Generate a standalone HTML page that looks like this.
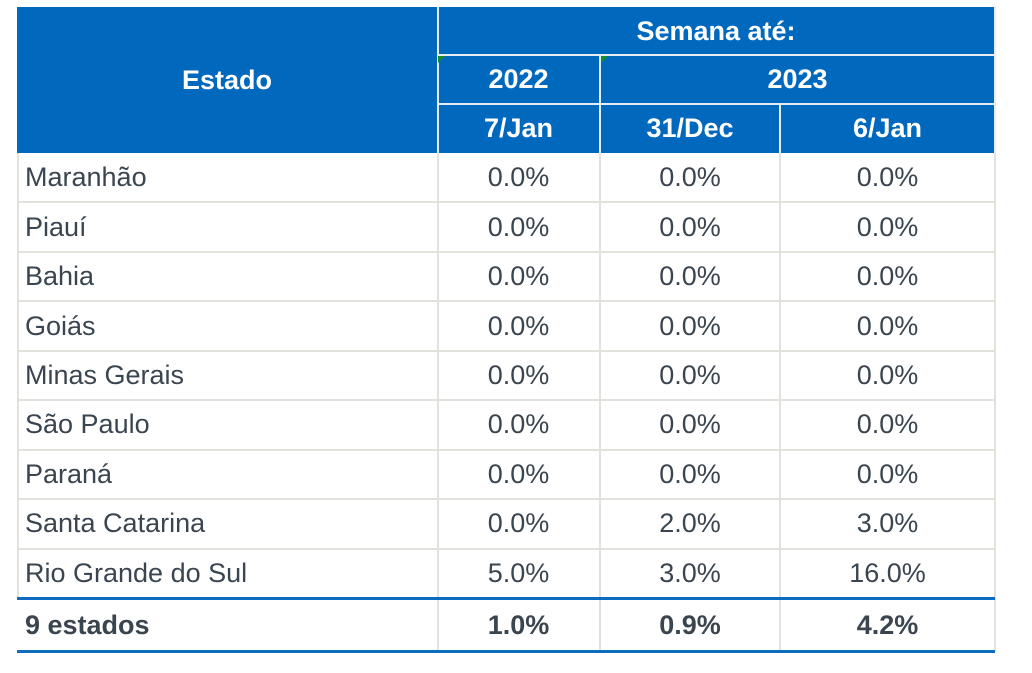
<!DOCTYPE html>
<html><head><meta charset="utf-8"><style>
html,body{margin:0;padding:0;background:#fff;width:1032px;height:673px;overflow:hidden}
body{position:relative;font-family:"Liberation Sans",sans-serif}
.c{position:absolute;display:flex;align-items:center;justify-content:center;box-sizing:border-box;font-size:27px;color:#3b4550}
.h{background:#0069be;color:#fff;font-weight:bold;font-size:27px}
.l{justify-content:flex-start;padding-left:8px}
.vl{position:absolute;width:2px;background:#e3e1dc}
.hl{position:absolute;height:2px;background:#e3e1dc;left:17px;width:978px}
.hw{position:absolute;height:2px;background:#e6ecf3}
.tri{position:absolute;width:0;height:0;border-top:7px solid #1a8a2a;border-right:7px solid transparent}
</style></head><body>
<div id="t"></div>
<script>
const states=["Maranhão","Piauí","Bahia","Goiás","Minas Gerais","São Paulo","Paraná","Santa Catarina","Rio Grande do Sul"];
const jan2022=["0.0%","0.0%","0.0%","0.0%","0.0%","0.0%","0.0%","0.0%","5.0%"];
const dec2023=["0.0%","0.0%","0.0%","0.0%","0.0%","0.0%","0.0%","2.0%","3.0%"];
const jan2023=["0.0%","0.0%","0.0%","0.0%","0.0%","0.0%","0.0%","3.0%","16.0%"];
const total=["9 estados","1.0%","0.9%","4.2%"];
const cols=[17,437,600,780,995];
const t=document.getElementById('t');
function cell(x,y,w,h,txt,cls,name){const d=document.createElement('div');d.className='c '+(cls||'');


d.style.left=x+'px';d.style.top=y+'px';d.style.width=w+'px';d.style.height=h+'px';d.textContent=txt;t.appendChild(d);return d;}
function line(cls,x,y,w,h,c){const d=document.createElement('div');d.className=cls;


if(x!=null)d.style.left=x+'px';d.style.top=y+'px';if(w!=null)d.style.width=w+'px';if(h!=null)d.style.height=h+'px';if(c)d.style.background=c;t.appendChild(d);}
// header
cell(17,7,978,146,'','h','header-background');
cell(17,7,420,146,'Estado','h','header-estado');
cell(437,7,558,48,'Semana até:','h','header-semana');
cell(437,55,163,49,'2022','h','header-2022');
cell(600,55,395,49,'2023','h','header-2023');
cell(437,104,163,49,'7/Jan','h','header-7-jan');
cell(600,104,180,49,'31/Dec','h','header-31-dec');
cell(780,104,215,49,'6/Jan','h','header-6-jan');
line('vl',437,7,null,146,'#e6ecf3');
line('hw',437,54,558,null);
line('hw',437,103,558,null);
line('vl',599,55,null,98,'#e6ecf3');
line('vl',779,104,null,49,'#e6ecf3');
line('vl',994,7,null,146,'#e6ecf3');
[438,601].forEach(x=>{const d=document.createElement('div');d.className='tri';


d.style.left=x+'px';d.style.top='56px';t.appendChild(d);});
// body
const top0=153,rh=49.45;
states.forEach((s,i)=>{const y=top0+i*rh;
cell(17,y,420,rh,s,'l','state-'+i);
cell(437,y,163,rh,jan2022[i],'','value-2022-jan-'+i);
cell(600,y,180,rh,dec2023[i],'','value-2023-dec-'+i);
cell(780,y,215,rh,jan2023[i],'','value-2023-jan-'+i);
if(i>0)line('hl',null,Math.round(y)-1);
});
[437,599,779,994].forEach(x=>line('vl',x,153,null,498));
line('vl',17,153,null,445);
// total
const ty=599;
line('hl',17,597,978,3,'#0e6bbf');
cell(17,ty,420,52,total[0],'l','total-label').style.fontWeight='bold';
cell(437,ty,163,52,total[1],'','total-2022').style.fontWeight='bold';
cell(600,ty,180,52,total[2],'','total-2023-dec').style.fontWeight='bold';
cell(780,ty,215,52,total[3],'','total-2023-jan').style.fontWeight='bold';
line('hl',17,650,978,3,'#0e6bbf');
</script>
</body></html>
